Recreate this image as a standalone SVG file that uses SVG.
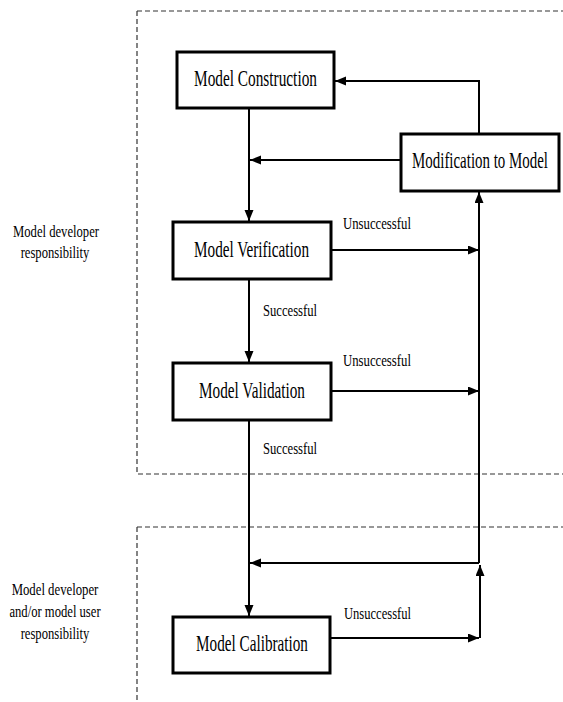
<svg xmlns="http://www.w3.org/2000/svg" width="563" height="702" viewBox="0 0 563 702">
<style>
.box{fill:#fff;stroke:#000;stroke-width:3}
.lbl{font-family:"Liberation Serif","Times New Roman",serif;font-size:24px;fill:#000;text-anchor:middle}
.sm{font-family:"Liberation Serif","Times New Roman",serif;font-size:17px;fill:#000}
.side{font-family:"Liberation Serif","Times New Roman",serif;font-size:17px;fill:#000;text-anchor:middle}
.con{fill:none;stroke:#000;stroke-width:2}
.dash{fill:none;stroke:#333;stroke-width:1.2;stroke-dasharray:5 3}
</style>
<defs>
<marker id="ah" markerUnits="userSpaceOnUse" markerWidth="12" markerHeight="10" refX="11" refY="4.5" orient="auto">
<path d="M0,0 L11,4.5 L0,9 z" fill="#000"/>
</marker>
</defs>
<rect width="563" height="702" fill="#fff"/>
<g id="regions">
<path class="dash" d="M137,11 H563 M137,11 V474 H563"/>
<path class="dash" d="M137,527 H563 M137,527 V702"/>
</g>
<g id="connectors">
<path class="con" d="M249,108 V221" marker-end="url(#ah)"/>
<path class="con" d="M479,134 V81 H335" marker-end="url(#ah)"/>
<path class="con" d="M401,160 H250" marker-end="url(#ah)"/>
<path class="con" d="M331,250 H479" marker-end="url(#ah)"/>
<path class="con" d="M249,279 V362" marker-end="url(#ah)"/>
<path class="con" d="M331,391 H479" marker-end="url(#ah)"/>
<path class="con" d="M479,563 V192" marker-end="url(#ah)"/>
<path class="con" d="M479,563 H250" marker-end="url(#ah)"/>
<path class="con" d="M249,420 V616" marker-end="url(#ah)"/>
<path class="con" d="M330,638 H479" marker-end="url(#ah)"/>
<path class="con" d="M480,638 V565" marker-end="url(#ah)"/>
</g>
<g id="construction">
<rect class="box" x="177" y="52" width="157" height="56"/>
<text class="lbl" transform="translate(255.5,86) scale(0.638,1)">Model Construction</text>
</g>
<g id="modification">
<rect class="box" x="401" y="134" width="158" height="57"/>
<text class="lbl" transform="translate(480,168) scale(0.622,1)">Modification to Model</text>
</g>
<g id="verification">
<rect class="box" x="173" y="222" width="158" height="57"/>
<text class="lbl" transform="translate(251.5,257) scale(0.634,1)">Model Verification</text>
</g>
<g id="validation">
<rect class="box" x="173" y="363" width="158" height="57"/>
<text class="lbl" transform="translate(252,398) scale(0.635,1)">Model Validation</text>
</g>
<g id="calibration">
<rect class="box" x="173" y="617" width="157" height="56"/>
<text class="lbl" transform="translate(252,651) scale(0.634,1)">Model Calibration</text>
</g>
<g id="edge-labels">
<text class="sm" transform="translate(343,229) scale(0.75,1)">Unsuccessful</text>
<text class="sm" transform="translate(263,316) scale(0.743,1)">Successful</text>
<text class="sm" transform="translate(343,366) scale(0.75,1)">Unsuccessful</text>
<text class="sm" transform="translate(263,454) scale(0.743,1)">Successful</text>
<text class="sm" transform="translate(344,619) scale(0.74,1)">Unsuccessful</text>
</g>
<g id="side-labels">
<text class="side" transform="translate(56,237) scale(0.743,1)">Model developer</text>
<text class="side" transform="translate(55,258) scale(0.743,1)">responsibility</text>
<text class="side" transform="translate(55,595) scale(0.75,1)">Model developer</text>
<text class="side" transform="translate(55,617) scale(0.743,1)">and/or model user</text>
<text class="side" transform="translate(55,639) scale(0.743,1)">responsibility</text>
</g>
</svg>
